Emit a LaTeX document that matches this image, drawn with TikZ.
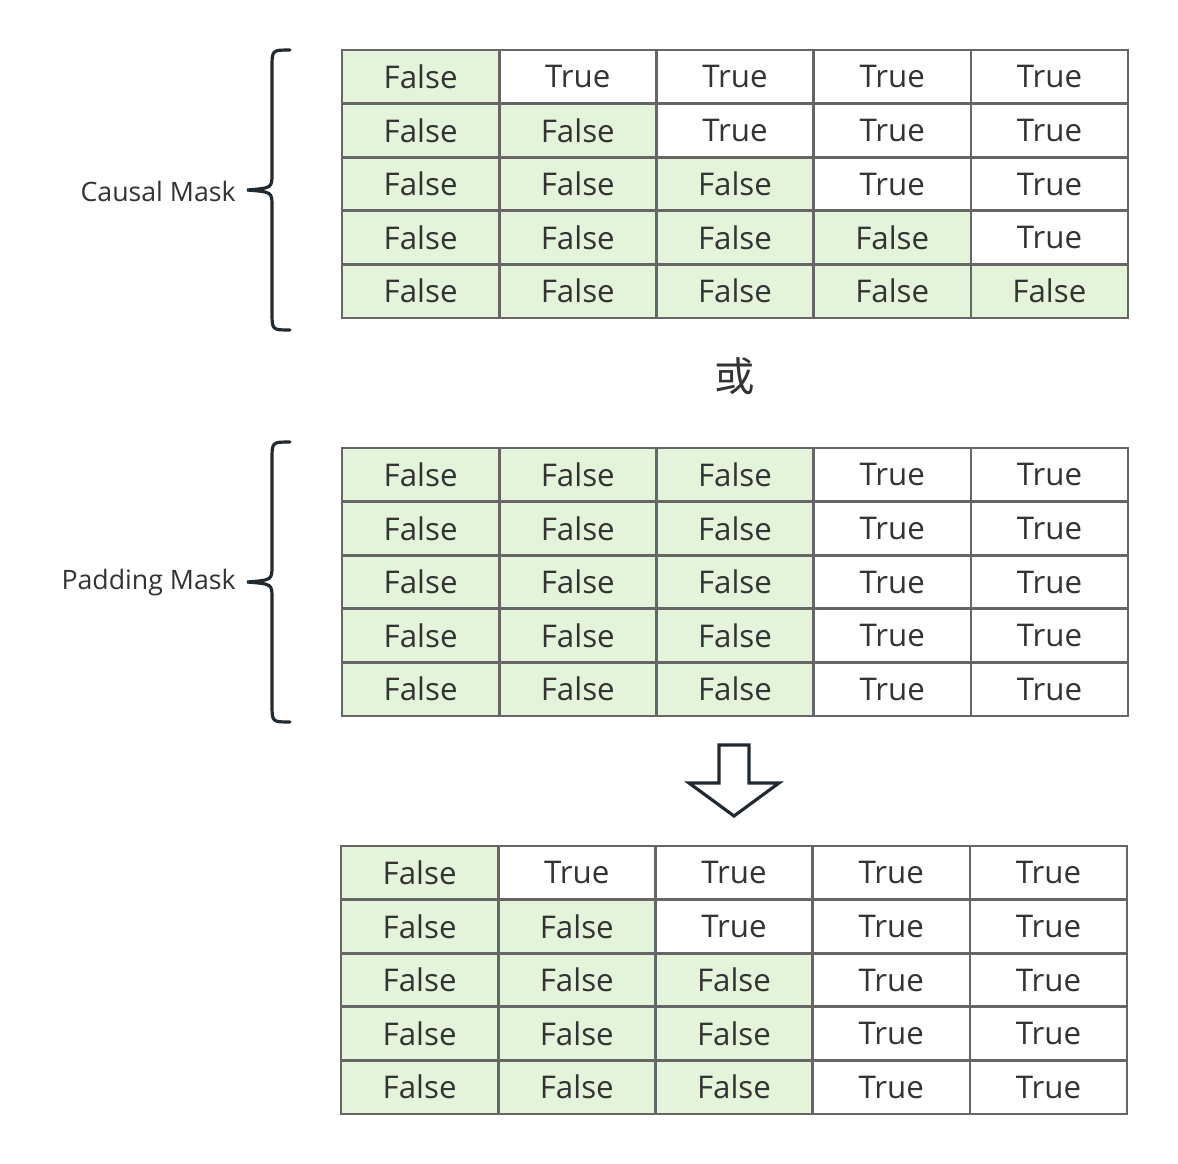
\documentclass[tikz,border=0pt]{standalone}
\usepackage{fontspec}
\setmainfont{Open Sans}
\newfontfamily\cjk{Noto Sans CJK SC}

\definecolor{maskgreen}{HTML}{E3F4DA}
\definecolor{gridgray}{HTML}{666666}
\definecolor{inkdark}{HTML}{222A31}
\definecolor{textgray}{HTML}{333333}

\tikzset{
  cell/.style={minimum width=3.144cm, minimum height=1.072cm,
    inner sep=0pt, text=textgray, font=\fontsize{17.8}{20}\selectfont},
  falsecell/.style={cell, fill=maskgreen},
  truecell/.style={cell, fill=white},
  gridline/.style={draw=gridgray, line width=1.1pt},
  bracket/.style={draw=inkdark, line width=1.8pt, line cap=round},
  masklabel/.style={anchor=east, inner sep=0pt, text=textgray, font=\fontsize{15.2}{17}\selectfont}
}

\begin{document}
\begin{tikzpicture}[x=0.02cm, y=-0.02cm]
\useasboundingbox (0,0) rectangle (1178,1164);

% causal mask
\foreach \r in {1,...,5}
  \foreach \c in {1,...,5}
  {
    \ifnum\c>\r
      \node[truecell] (causal-\r-\c) at ({342+157.2*(\c-0.5)},{50+53.6*(\r-0.5)}) {True};
    \else
      \node[falsecell] (causal-\r-\c) at ({342+157.2*(\c-0.5)},{50+53.6*(\r-0.5)}) {False};
    \fi
  }

% padding mask
\foreach \r in {1,...,5}
  \foreach \c in {1,...,5}
  {
    \ifnum\c>3
      \node[truecell] (padding-\r-\c) at ({342+157.2*(\c-0.5)},{448+53.6*(\r-0.5)}) {True};
    \else
      \node[falsecell] (padding-\r-\c) at ({342+157.2*(\c-0.5)},{448+53.6*(\r-0.5)}) {False};
    \fi
  }

% combined mask
\foreach \r in {1,...,5}
  \foreach \c in {1,...,5}
  {
    \pgfmathtruncatemacro\lim{min(\r,3)}
    \ifnum\c>\lim
      \node[truecell] (merged-\r-\c) at ({341+157.2*(\c-0.5)},{846+53.6*(\r-0.5)}) {True};
    \else
      \node[falsecell] (merged-\r-\c) at ({341+157.2*(\c-0.5)},{846+53.6*(\r-0.5)}) {False};
    \fi
  }

% cell borders on top of the fills
\foreach \m in {causal, padding, merged}
  \foreach \r in {1,...,5}
    \foreach \c in {1,...,5}
      \draw[gridline] (\m-\r-\c.north west) rectangle (\m-\r-\c.south east);

% braces and labels
\draw[bracket] (290,50) .. controls (272,50) .. (272,68) -- (272,174)
  .. controls (272,188) .. (247,190) .. controls (272,192) .. (272,206)
  -- (272,312) .. controls (272,330) .. (290,330);
\node[masklabel] (causal) at (236,191) {Causal Mask};

\draw[bracket] (290,442) .. controls (272,442) .. (272,460) -- (272,566)
  .. controls (272,580) .. (247,582) .. controls (272,584) .. (272,598)
  -- (272,704) .. controls (272,722) .. (290,722);
\node[masklabel] (padding) at (236,583) {Padding Mask};

\node[text=textgray, font=\cjk\fontsize{23}{26}\selectfont] (either) at (735,376) {或};

% down arrow
\draw[draw=inkdark, line width=1.8pt, line join=miter]
  (719,745) -- (749,745) -- (749,783) -- (779,783) -- (734,816)
  -- (689,783) -- (719,783) -- cycle;

\end{tikzpicture}
\end{document}
